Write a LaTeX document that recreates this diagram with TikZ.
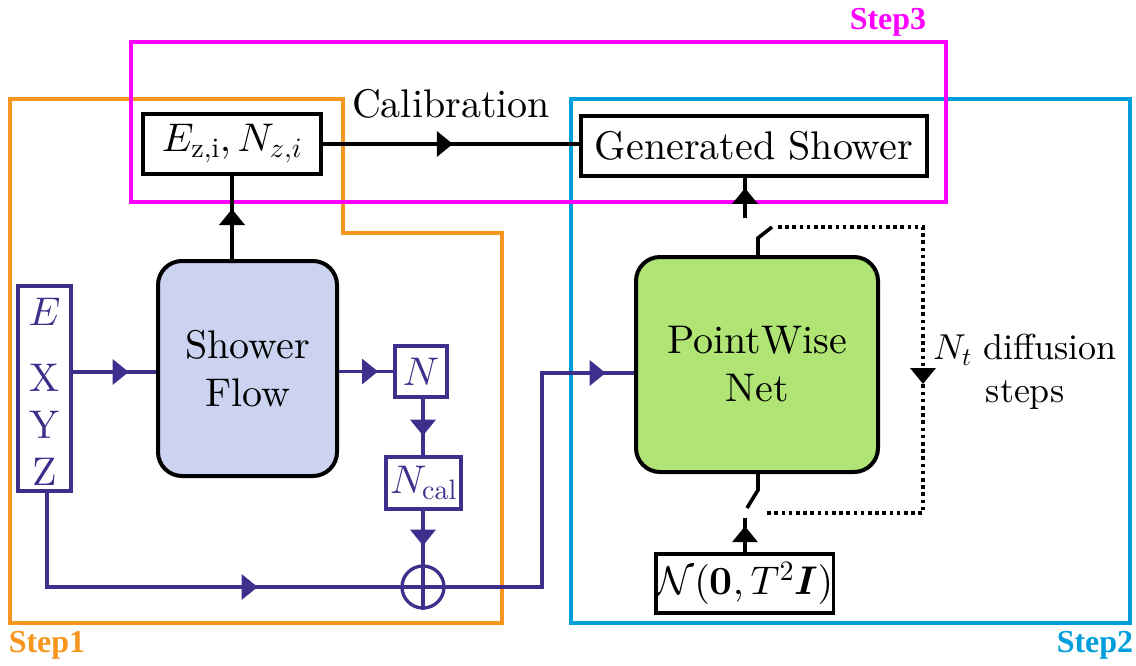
\documentclass[tikz,border=0pt]{standalone}
\usepackage{amsmath,bm}
\usepackage{fontspec}
\setmainfont{lmroman10-regular.otf}[BoldFont=lmroman10-bold.otf,ItalicFont=lmroman10-italic.otf,BoldItalicFont=lmroman10-bolditalic.otf]
\newfontfamily\stepfont{Liberation Serif}
\DeclareFontShape{OML}{cmm}{m}{it}{<-> cmmi10}{}
\DeclareFontShape{OML}{cmm}{b}{it}{<-> cmmib10}{}
\DeclareFontShape{OMS}{cmsy}{m}{n}{<-> cmsy10}{}
\DeclareFontShape{OMS}{cmsy}{b}{n}{<-> cmbsy10}{}
\DeclareFontShape{OT1}{cmr}{m}{n}{<-> cmr10}{}
\DeclareFontShape{OT1}{cmr}{bx}{n}{<-> cmbx10}{}
\DeclareFontShape{OMX}{cmex}{m}{n}{<-> cmex10}{}
\usetikzlibrary{arrows.meta,decorations.markings}
\definecolor{pur}{RGB}{62,47,140}
\definecolor{flowfill}{RGB}{203,211,240}
\definecolor{pwfill}{RGB}{176,228,116}
\definecolor{oframe}{RGB}{247,150,30}
\definecolor{mframe}{RGB}{255,0,255}
\definecolor{bframe}{RGB}{0,158,219}
\begin{document}
\begin{tikzpicture}[x=1pt,y=-1pt,
  mfont/.style={font=\fontsize{40}{48}\selectfont},
  blackbox/.style={draw=black,line width=3.6pt,fill=white,inner sep=0pt,mfont},
  bigbox/.style={draw=black,line width=4pt,rounded corners=24pt,inner sep=0pt,align=center,mfont},
  purbox/.style={draw=pur,line width=3.3pt,fill=white,inner sep=0pt,text=pur,mfont},
  purline/.style={draw=pur,line width=3.3pt},
  blkline/.style={draw=black,line width=3.6pt},
  dotline/.style={draw=black,line width=3.6pt,dash pattern=on 3.6pt off 3.6pt},
  frame/.style={line width=3.5pt},
  steplabel/.style={font=\stepfont\bfseries\fontsize{32}{34}\selectfont,inner sep=0pt},
  arrowat/.style={postaction={decorate},decoration={markings,mark=at position #1 with {\arrow{Triangle[length=16pt,width=25pt]}}}}
]
\useasboundingbox[fill=white] (0,0) rectangle (1136,666);

% group frames
\draw[frame,draw=oframe] (10,99) -- (343,99) -- (343,233) -- (502,233) -- (502,623) -- (10,623) -- cycle;
\draw[frame,draw=bframe] (571,99) rectangle (1130,623);
\draw[frame,draw=mframe] (131,42) rectangle (946,202);

\node[steplabel,text=oframe] (s1) at (47,645) {Step1};
\node[steplabel,text=bframe] (s2) at (1095,645) {Step2};
\node[steplabel,text=mframe] (s3) at (888,22) {Step3};

% nodes
\node[blackbox,minimum width=178pt,minimum height=60pt] (Ez) at (232,144) {$E_{\mathrm{z,i}}, N_{z,i}$};
\node[blackbox,minimum width=346pt,minimum height=60pt] (Gen) at (754,146) {Generated Shower};
\node[mfont,inner sep=0pt] (cal) at (451,104) {Calibration};
\node[bigbox,fill=flowfill,minimum width=179pt,minimum height=215pt] (Flow) at (247.5,368.5) {Shower\\Flow};
\node[bigbox,fill=pwfill,minimum width=242pt,minimum height=215pt] (PW) at (757,364.5) {PointWise\\Net};
\node[purbox,minimum width=53pt,minimum height=205pt] (X) at (44.5,388.5) {};
\node[text=pur,font=\fontsize{40}{42}\selectfont,inner sep=0pt] (lE) at (44.5,312) {$E$};
\node[text=pur,font=\fontsize{40}{42}\selectfont,inner sep=0pt] (lX) at (44.5,378) {X};
\node[text=pur,font=\fontsize{40}{42}\selectfont,inner sep=0pt] (lY) at (44.5,425) {Y};
\node[text=pur,font=\fontsize{40}{42}\selectfont,inner sep=0pt] (lZ) at (44.5,472) {Z};
\node[purbox,minimum width=52pt,minimum height=51pt] (N) at (421,371.5) {$N$};
\node[purbox,minimum width=75pt,minimum height=52pt] (Ncal) at (423.5,483) {$N_{\mathrm{cal}}$};
\node[draw=pur,line width=3.3pt,circle,minimum size=42pt,inner sep=0pt] (plus) at (423,587) {};
\draw[purline] (plus.north) -- (plus.south) (plus.west) -- (plus.east);
\node[blackbox,minimum width=173pt,minimum height=59pt] (Nor) at (744.5,583.5) {$\mathcal{N}(\mathbf{0},T^2\bm{I})$};
\node[font=\fontsize{36}{40}\selectfont,inner sep=0pt] (nt) at (1025,350) {$N_t$ diffusion};
\node[font=\fontsize{36}{40}\selectfont,inner sep=0pt] (steps) at (1025,395) {steps};

% coordinates for switches and loop
\coordinate (st1) at (758,238);
\coordinate (st2) at (772,227);
\coordinate (d1) at (778,227);
\coordinate (d2) at (923,227);
\coordinate (d3) at (923,513);
\coordinate (d4) at (767,513);
\coordinate (sb1) at (758,490);
\coordinate (sb2) at (747,508);
\coordinate (ta) at (745,218);
\coordinate (ba) at (745,518);
\coordinate (bend) at (542,587);

% black connectors
\draw[blkline,arrowat=50pt] (Flow.north -| Ez.south) -- (Ez.south);
\draw[blkline,arrowat=130pt] (Ez.east) -- (Ez.east -| Gen.west);
\draw[blkline] (PW.north -| st1) -- (st1) -- (st2);
\draw[blkline] (PW.south -| sb1) -- (sb1) -- (sb2);
\draw[dotline,arrowat=302pt] (d1) -- (d2) -- (d3) -- (d4);
\draw[blkline,arrowat=30pt] (ta) -- (ta |- Gen.south);
\draw[blkline,arrowat=26pt] (Nor.north -| ba) -- (ba);

% purple connectors
\draw[purline,arrowat=56pt] (X.east |- 0,372) -- (Flow.west |- 0,372);
\draw[purline,arrowat=39pt] (Flow.east |- N.west) -- (N.west);
\draw[purline,arrowat=37pt] (N.south -| plus) -- (Ncal.north -| plus);
\draw[purline,arrowat=35pt] (Ncal.south -| plus) -- (plus.north);
\draw[purline,arrowat=305pt] (X.south -| 47,0) -- (plus.west -| 47,0) -- (plus.west);
\draw[purline,arrowat=374pt] (plus.east) -- (bend) -- (bend |- 0,373) -- (PW.west |- 0,373);
\end{tikzpicture}
\end{document}
